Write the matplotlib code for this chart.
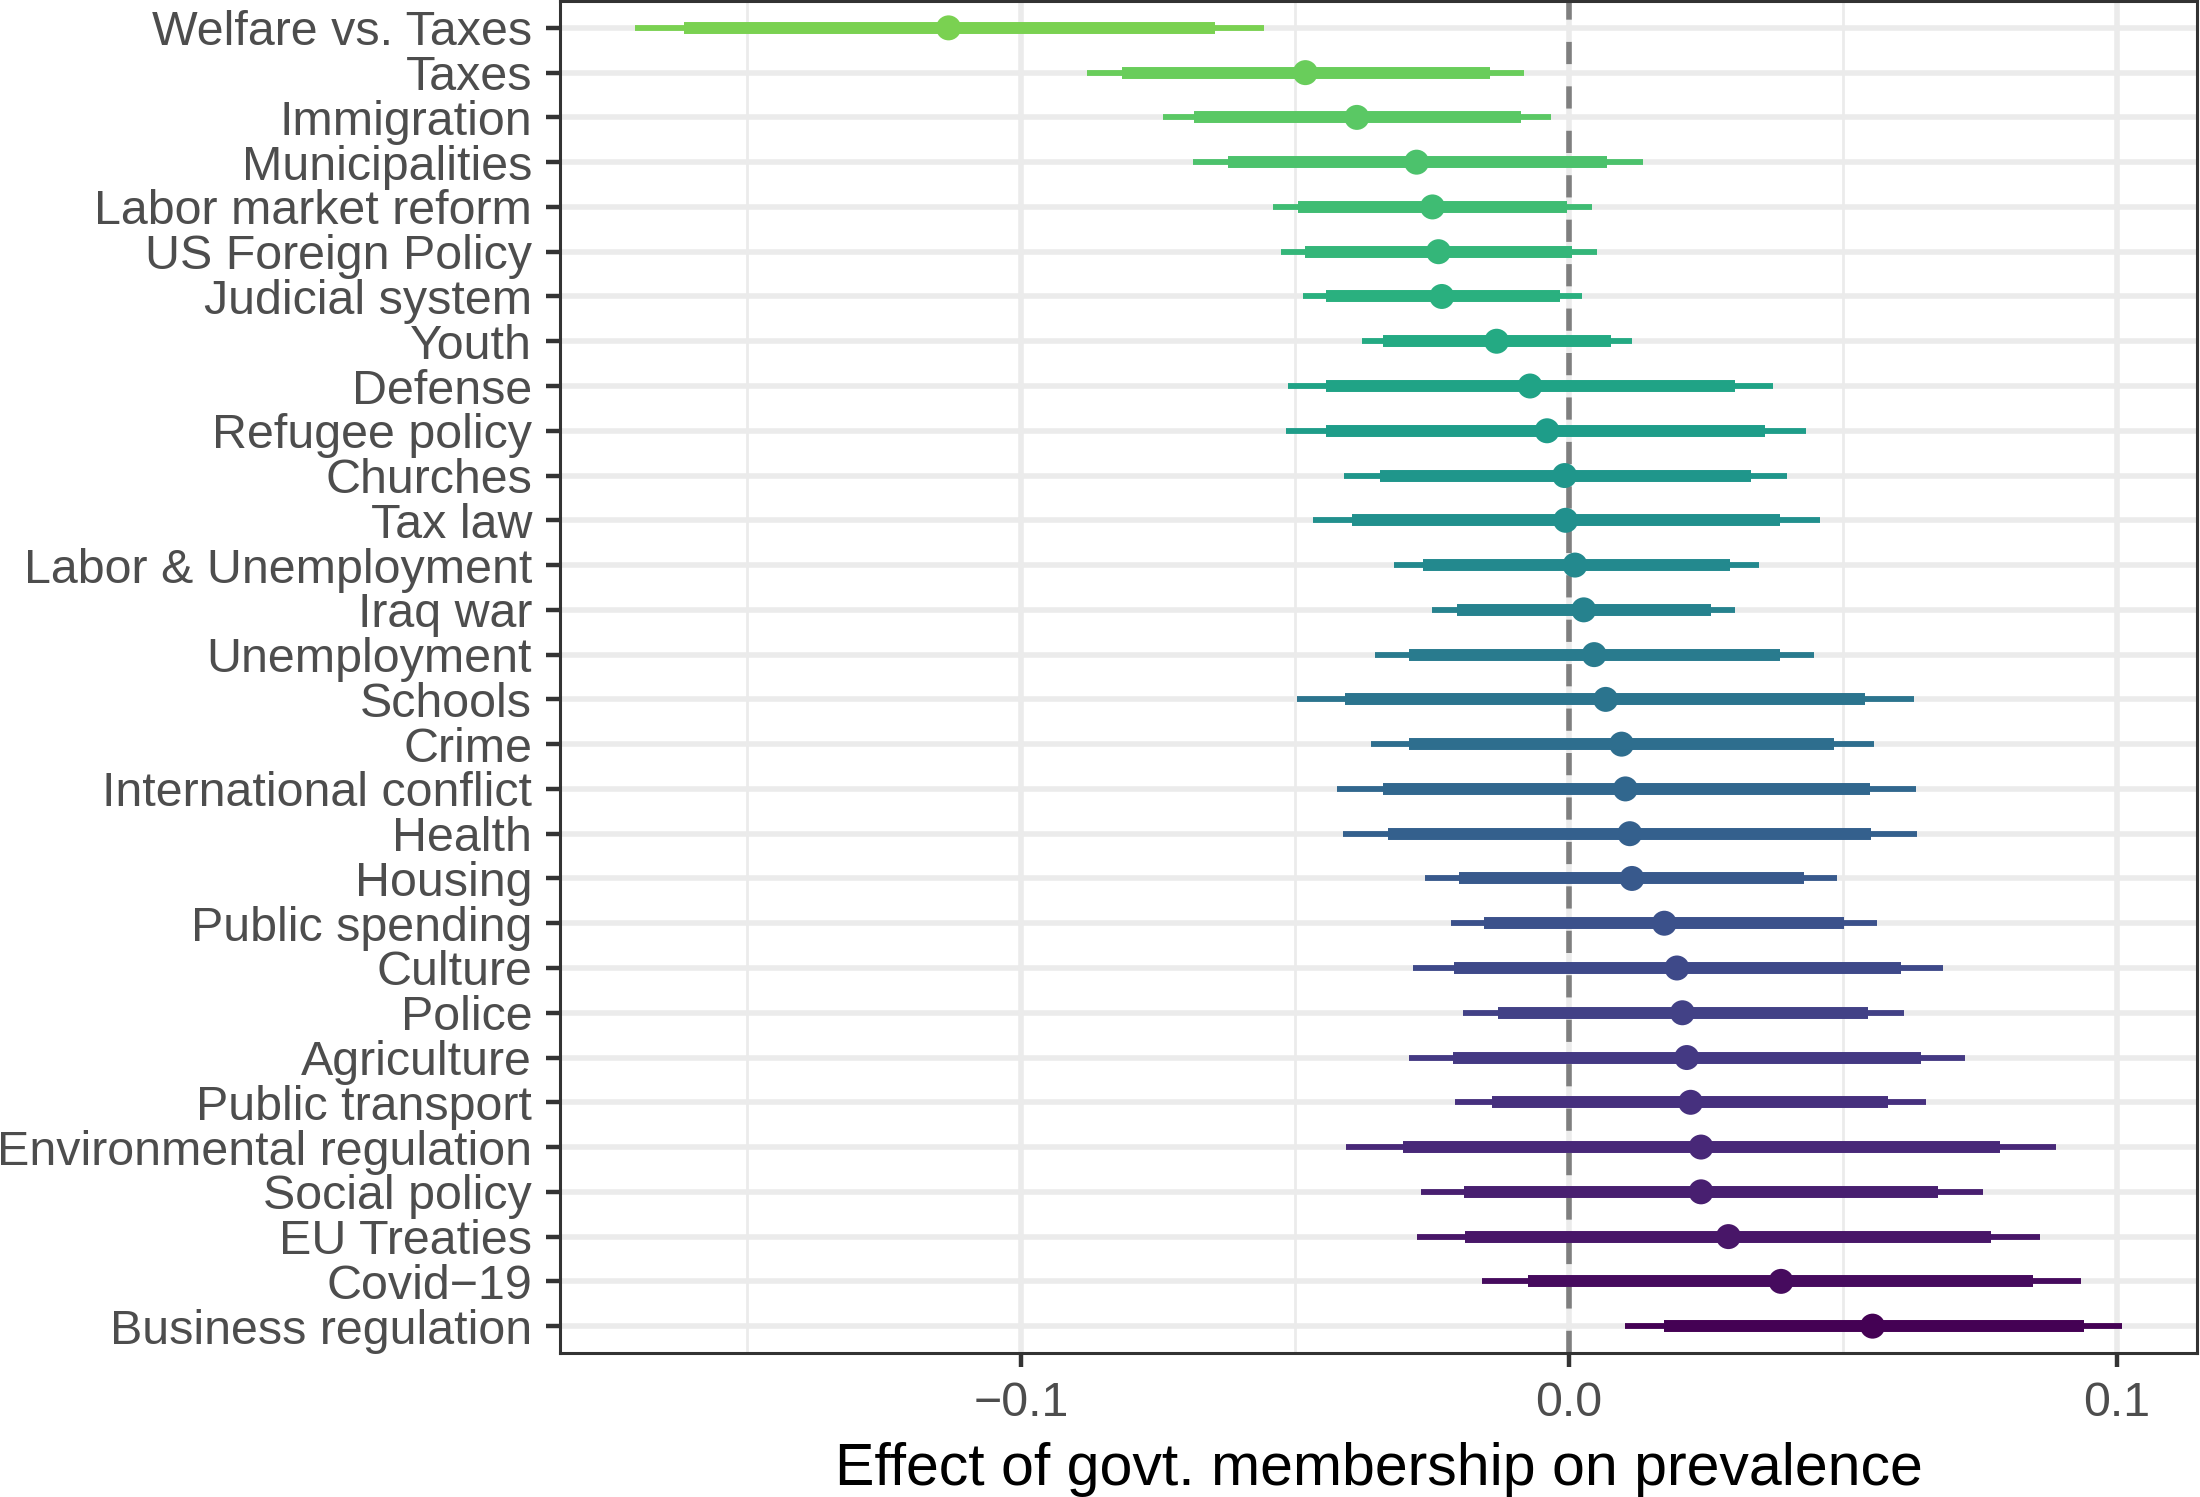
import matplotlib.pyplot as plt
import numpy as np
from matplotlib import cm

plt.rcParams['font.family'] = ['Liberation Sans', 'DejaVu Sans']

# topics from top to bottom
topics = ["Welfare vs. Taxes", "Taxes", "Immigration", "Municipalities",
          "Labor market reform", "US Foreign Policy", "Judicial system", "Youth",
          "Defense", "Refugee policy", "Churches", "Tax law",
          "Labor & Unemployment", "Iraq war", "Unemployment", "Schools", "Crime",
          "International conflict", "Health", "Housing", "Public spending",
          "Culture", "Police", "Agriculture", "Public transport",
          "Environmental regulation", "Social policy", "EU Treaties",
          "Covid\u221219", "Business regulation"]
estimate = [-0.1132, -0.0481, -0.0387, -0.0278, -0.0249, -0.0238, -0.0232, -0.0132,
            -0.0071, -0.0040, -0.0008, -0.0006, 0.0011, 0.0027, 0.0046, 0.0067,
            0.0096, 0.0103, 0.0111, 0.0115, 0.0174, 0.0197, 0.0207, 0.0215,
            0.0222, 0.0241, 0.0241, 0.0291, 0.0387, 0.0554]
outer_lo = [-0.1705, -0.0879, -0.0741, -0.0686, -0.0540, -0.0525, -0.0485, -0.0377,
            -0.0513, -0.0517, -0.0410, -0.0467, -0.0320, -0.0249, -0.0354, -0.0496,
            -0.0362, -0.0423, -0.0412, -0.0262, -0.0216, -0.0285, -0.0193, -0.0291,
            -0.0207, -0.0406, -0.0270, -0.0278, -0.0159, 0.0102]
outer_hi = [-0.0556, -0.0082, -0.0033, 0.0136, 0.0042, 0.0052, 0.0023, 0.0115,
            0.0372, 0.0433, 0.0397, 0.0458, 0.0347, 0.0303, 0.0448, 0.0630,
            0.0556, 0.0634, 0.0636, 0.0490, 0.0563, 0.0682, 0.0611, 0.0722,
            0.0651, 0.0889, 0.0755, 0.0860, 0.0935, 0.1010]
inner_lo = [-0.1615, -0.0816, -0.0684, -0.0623, -0.0494, -0.0481, -0.0444, -0.0339,
            -0.0444, -0.0443, -0.0345, -0.0395, -0.0266, -0.0205, -0.0291, -0.0408,
            -0.0291, -0.0339, -0.0330, -0.0201, -0.0155, -0.0209, -0.0130, -0.0211,
            -0.0140, -0.0303, -0.0192, -0.0190, -0.0075, 0.0174]
inner_hi = [-0.0646, -0.0144, -0.0088, 0.0069, -0.0004, 0.0006, -0.0017, 0.0077,
            0.0303, 0.0358, 0.0333, 0.0385, 0.0293, 0.0259, 0.0385, 0.0540,
            0.0483, 0.0550, 0.0552, 0.0429, 0.0502, 0.0605, 0.0546, 0.0642,
            0.0582, 0.0787, 0.0674, 0.0770, 0.0847, 0.0939]

n = len(topics)
ypos = np.arange(n)
# viridis from dark purple (bottom) to green (top), end = 0.8
colors = cm.viridis(np.linspace(0.8, 0, n))

fig = plt.figure(figsize=(22, 14.97), dpi=100)
ax = fig.add_axes([560 / 2200, 1 - 1353 / 1497, 1637 / 2200, 1352 / 1497])

# grid
for yy in ypos:
    ax.axhline(yy, color='#EBEBEB', lw=4, zorder=0)
for xx in [-0.1, 0.0, 0.1]:
    ax.axvline(xx, color='#EBEBEB', lw=4, zorder=0)
for xx in [-0.15, -0.05, 0.05]:
    ax.axvline(xx, color='#EBEBEB', lw=2, zorder=0)

ax.axvline(0, color='#7F7F7F', lw=4, ls=(0, (4, 4)), zorder=1)

ax.hlines(ypos, outer_lo, outer_hi, colors=colors, lw=4.2, zorder=2, capstyle='butt')
ax.hlines(ypos, inner_lo, inner_hi, colors=colors, lw=8.6, zorder=3, capstyle='butt')
ax.scatter(estimate, ypos, c=colors, s=18 ** 2, zorder=4, linewidths=0)

ax.set_xlim(-0.1841, 0.1146)
ax.set_ylim(n - 0.4, -0.6)
ax.set_yticks(ypos)
ax.set_yticklabels(topics)
ax.set_xticks([-0.1, 0.0, 0.1])
ax.set_xticklabels(["\u22120.1", "0.0", "0.1"])
ax.tick_params(length=10, width=3.2, color='#333333', pad=10,
               labelsize=34.8, labelcolor='#4D4D4D')
ax.set_xlabel("Effect of govt. membership on prevalence", fontsize=42.5,
              color='black', labelpad=12)
for sp in ax.spines.values():
    sp.set_color('#333333')
    sp.set_linewidth(2.2)

fig.savefig("out.png", dpi=100)
